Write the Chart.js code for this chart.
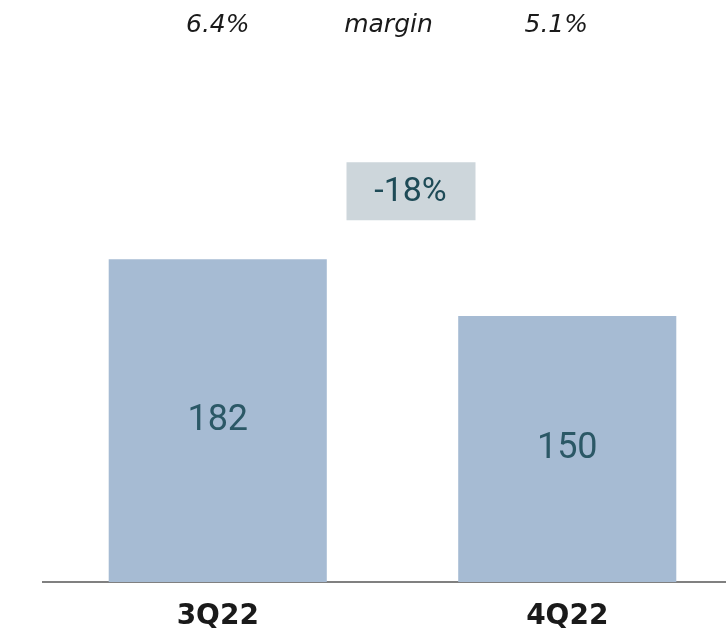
<!DOCTYPE html>
<html>
<head>
<meta charset="utf-8">
<script src="https://cdn.jsdelivr.net/npm/chart.js@4.4.0/dist/chart.umd.min.js"></script>
<style>
  html, body { margin: 0; padding: 0; background: #fff; overflow: hidden; }
  #wrap { width: 742px; height: 644px; }
</style>
</head>
<body>
<div id="wrap"><canvas id="myChart" width="742" height="644"></canvas></div>
<script>
// data
const categories = ['3Q22', '4Q22'];
const values = [182, 150];
const margins = ['6.4%', '5.1%'];
const marginTitle = 'margin';
const changeLabel = '-18%';

const barColor = '#a6bbd3';
const labelColor = '#2b5866';

// draws the value labels, the margin row on top and the change box
const annotations = {
  id: 'annotations',
  afterDatasetsDraw(chart) {
    const ctx = chart.ctx;
    const bars = chart.getDatasetMeta(0).data;
    ctx.save();

    // values inside bars
    ctx.font = '36px Roboto';
    ctx.fillStyle = labelColor;
    ctx.textAlign = 'center';
    ctx.textBaseline = 'middle';
    bars.forEach((bar, i) => {
      ctx.fillText(String(values[i]), bar.x, (bar.y + bar.base) / 2);
    });

    // margin row
    ctx.font = 'italic 25px "DejaVu Sans"';
    ctx.fillStyle = '#1a1a1a';
    ctx.fillText(margins[0], bars[0].x, 25);
    ctx.fillText(marginTitle, (bars[0].x + bars[1].x) / 2 - 4, 25);
    ctx.fillText(margins[1], bars[1].x - 11, 25);

    // change box
    const bx = (bars[0].x + bars[1].x) / 2 + 18;
    const by = bars[0].y - 68;
    ctx.fillStyle = '#cdd6db';
    ctx.fillRect(bx - 64, by - 29, 129, 58);
    ctx.font = '34px Roboto';
    ctx.fillStyle = '#1e4b57';
    ctx.fillText(changeLabel, bx, by + 1);

    ctx.restore();
  }
};

const ctx = document.getElementById('myChart');

new Chart(ctx, {
  type: 'bar',
  data: {
    labels: categories,
    datasets: [{
      data: values,
      backgroundColor: barColor,
      borderWidth: 0,
      categoryPercentage: 1,
      barPercentage: 0.624
    }]
  },
  options: {
    responsive: false,
    animation: false,
    layout: { padding: { left: 43, right: 0, top: 50, bottom: 10 } },
    plugins: {
      legend: { display: false },
      tooltip: { enabled: false }
    },
    scales: {
      x: {
        grid: { display: false, drawTicks: false },
        border: { display: true, color: '#808080', width: 2 },
        ticks: {
          color: '#1a1a1a',
          padding: 18,
          font: { family: 'DejaVu Sans', size: 28, weight: 'bold' }
        },
        afterFit: (scale) => { scale.height = 52; }
      },
      y: {
        display: false,
        min: 0,
        max: 300
      }
    }
  },
  plugins: [annotations]
});
</script>
</body>
</html>
